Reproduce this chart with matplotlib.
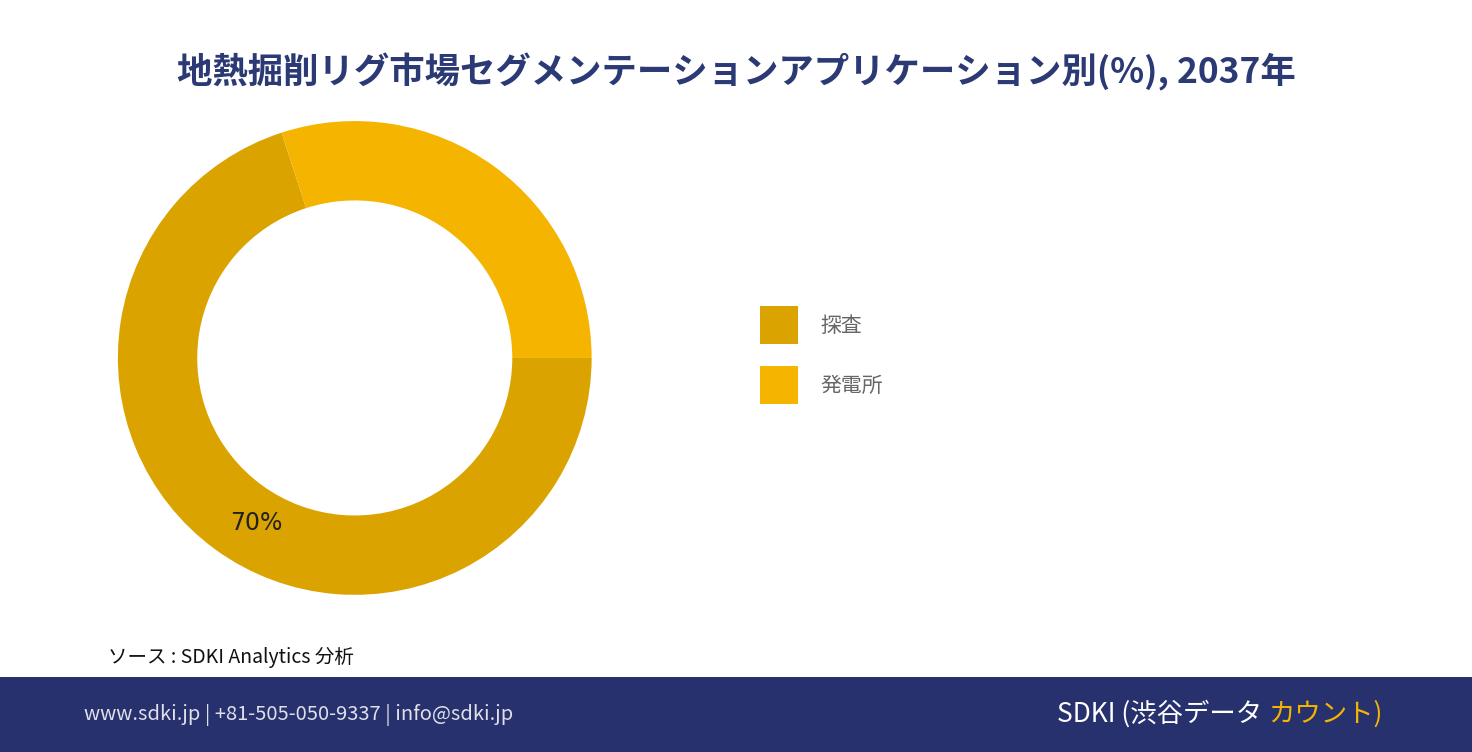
import matplotlib
matplotlib.use("Agg")
import matplotlib.pyplot as plt
from matplotlib.patches import Rectangle

plt.rcParams['font.family'] = ['Noto Sans CJK JP', 'DejaVu Sans']

categories = ["探査", "発電所"]
values = [70, 30]
colors = ["#DAA300", "#F4B400"]
title = "地熱掘削リグ市場セグメンテーションアプリケーション別(%), 2037年"

W, H = 1472, 752
fig = plt.figure(figsize=(14.72, 7.52), dpi=100)
fig.patch.set_facecolor("white")

ax = fig.add_axes([0.241 - 0.161, 0.524 - 0.315, 0.322, 0.630])
wedges, texts, autotexts = ax.pie(
    values, colors=colors, startangle=0, counterclock=False,
    wedgeprops=dict(width=0.335, edgecolor="none"),
    autopct=lambda p: f"{p:.0f}%" if p > 50 else "", pctdistance=0.81,
    textprops=dict(fontsize=17, color="#222222", family=['DejaVu Sans']))
ax.set_aspect("equal")
ax.set_xlim(-1.0, 1.0); ax.set_ylim(-1.0, 1.0)
for t in autotexts:
    x, y = t.get_position()
    t.set_position((x + 0.06, y - 0.04))

# legend
for i, (cat, col) in enumerate(zip(categories, colors)):
    y0 = 306 + i * 60
    fig.add_artist(Rectangle((760 / W, 1 - (y0 + 38) / H), 38 / W, 38 / H,
                             transform=fig.transFigure, facecolor=col, edgecolor="none"))
    fig.text(820 / W, 1 - (y0 + 20) / H, cat, ha="left", va="center",
             fontsize=15, color="#666666")

fig.text(0.5, 1 - 72 / H, title, ha="center", va="center", fontsize=25.5,
         fontweight="bold", color="#2B3A74")

fig.text(108 / W, 1 - 658 / H, "ソース : SDKI Analytics 分析", ha="left", va="center",
         fontsize=14, style="italic", color="#111111")

fig.add_artist(Rectangle((0, 0), 1, 75 / H, transform=fig.transFigure,
                         facecolor="#27316E", edgecolor="none"))
fig.text(84 / W, 1 - 715 / H, "www.sdki.jp | +81-505-050-9337 | info@sdki.jp",
         ha="left", va="center", fontsize=14.5, color="#E0E0E8")
fig.text(1268 / W, 1 - 714 / H, "SDKI (渋谷データ ", ha="right", va="center",
         fontsize=19, color="white")
fig.text(1268 / W, 1 - 714 / H, "カウント)", ha="left", va="center",
         fontsize=19, color="#F4B400")

fig.savefig("out.png", dpi=100)
